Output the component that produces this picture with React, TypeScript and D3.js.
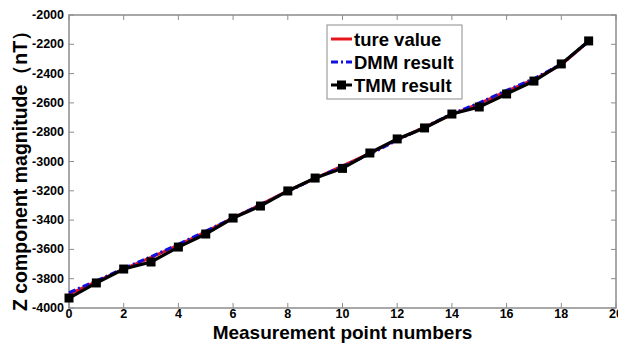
import React from 'react';
import * as d3 from 'd3';

const points = d3.range(0, 20);
const trueValue = [-3905, -3820, -3735, -3655, -3570, -3480, -3385, -3295, -3200, -3115, -3030, -2945, -2850, -2765, -2680, -2605, -2520, -2440, -2340, -2180];
const dmmResult = [-3895, -3815, -3730, -3650, -3565, -3475, -3385, -3295, -3205, -3115, -3035, -2950, -2855, -2765, -2675, -2600, -2515, -2435, -2335, -2180];
const tmmResult = [-3932, -3829, -3734, -3686, -3584, -3495, -3386, -3304, -3201, -3113, -3047, -2942, -2846, -2771, -2676, -2628, -2539, -2451, -2334, -2177];
const xTicks = [0, 2, 4, 6, 8, 10, 12, 14, 16, 18, 20];
const yTicks = [-4000, -3800, -3600, -3400, -3200, -3000, -2800, -2600, -2400, -2200, -2000];

const margin = { top: 15, right: 2, bottom: 36, left: 69 };
const W = 618;
const H = 344;

const App = () => {
    const x = d3.scaleLinear().domain([0, 20]).range([margin.left, W - margin.right]);
    const y = d3.scaleLinear().domain([-4000, -2000]).range([H - margin.bottom, margin.top]);
    const line = (vals: number[]) =>
        d3.line<number>().x((_, i) => x(points[i])).y(d => y(d))(vals) || '';

    const font = 'Liberation Sans, Arial, sans-serif';
    const axisColor = '#8c8c8c';
    const legend = [
        { label: 'ture value', color: '#e8141c', dash: null, marker: false },
        { label: 'DMM result', color: '#1010e0', dash: '7,3,2,3', marker: false },
        { label: 'TMM result', color: '#000', dash: null, marker: true },
    ];

    return (
        <svg width={W} height={H} style={{ position: 'absolute', left: 0, top: 0, background: '#fff' }} fontFamily={font}>
            <rect x={0} y={0} width={W} height={H} fill="#fff" />
            {/* frame */}
            <rect x={x(0)} y={y(-2000)} width={x(20) - x(0)} height={y(-4000) - y(-2000)} fill="none" stroke={axisColor} strokeWidth={1.5} />
            {xTicks.map(t => (
                <g key={'x' + t}>
                    <line x1={x(t)} x2={x(t)} y1={y(-4000)} y2={y(-4000) - 5} stroke={axisColor} />
                    <line x1={x(t)} x2={x(t)} y1={y(-2000)} y2={y(-2000) + 5} stroke={axisColor} />
                    <text x={x(t)} y={y(-4000) + 10} textAnchor="middle" fontSize={12.5} fontWeight="bold">{t}</text>
                </g>
            ))}
            {yTicks.map(t => (
                <g key={'y' + t}>
                    <line x1={x(0)} x2={x(0) + 5} y1={y(t)} y2={y(t)} stroke={axisColor} />
                    <line x1={x(20)} x2={x(20) - 5} y1={y(t)} y2={y(t)} stroke={axisColor} />
                    <text x={x(0) - 5} y={y(t) + 4} textAnchor="end" fontSize={12.5} fontWeight="bold">{t}</text>
                </g>
            ))}
            {/* series */}
            <path d={line(trueValue)} fill="none" stroke="#e8141c" strokeWidth={3} />
            <path d={line(dmmResult)} fill="none" stroke="#1010e0" strokeWidth={3} strokeDasharray="7,3,2,3" />
            <path d={line(tmmResult)} fill="none" stroke="#000" strokeWidth={3.2} />
            {tmmResult.map((v, i) => (
                <rect key={i} x={x(points[i]) - 4.5} y={y(v) - 4.5} width={9} height={9} fill="#000" />
            ))}
            {/* legend */}
            <rect x={327} y={25} width={135} height={74} fill="#fff" stroke={axisColor} />
            {legend.map((d, i) => {
                const ly = 39 + i * 23;
                return (
                    <g key={d.label}>
                        <line x1={331} x2={352} y1={ly} y2={ly} stroke={d.color} strokeWidth={3} strokeDasharray={d.dash || undefined} />
                        {d.marker && <rect x={337} y={ly - 4.5} width={9} height={9} fill="#000" />}
                        <text x={354} y={ly + 6.5} fontSize={18.5} fontWeight="bold">{d.label}</text>
                    </g>
                );
            })}
            {/* axis titles */}
            <text x={(x(0) + x(20)) / 2} y={339} textAnchor="middle" fontSize={19} fontWeight="bold">Measurement point numbers</text>
            <text transform={`translate(27,166) rotate(-90)`} textAnchor="middle" fontSize={19.5} fontWeight="bold">Z component magnitude（nT）</text>
        </svg>
    );
};

export default App;
